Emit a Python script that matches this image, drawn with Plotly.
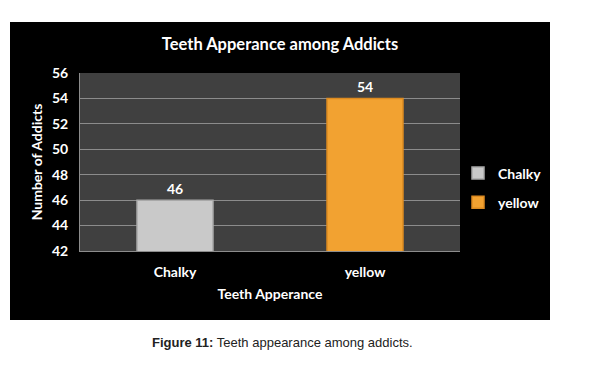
import plotly.graph_objects as go

categories = ["Chalky", "yellow"]
values = [46, 54]
colors = ["#c9c9c9", "#f2a231"]
edge_colors = ["#a8a8a8", "#dc8a20"]
y_ticks = [42, 44, 46, 48, 50, 52, 54, 56]

W, H = 592, 365
L, R, T, B = 80, 132, 73, 114  # plot area x 80-460, y 73-251
pw = W - L - R
ph = H - T - B

def px_x(x):
    return (x - L) / pw

def px_y(y):
    return (H - B - y) / ph

FONT = "Lato"

fig = go.Figure()
for c, v, col, ec in zip(categories, values, colors, edge_colors):
    fig.add_trace(go.Bar(
        x=[c], y=[v], name=c, width=0.4, legendgroup=c,
        marker=dict(color=col, line=dict(color=ec, width=1.5)),
        text=[str(v)], textposition="outside",
        textfont=dict(family=FONT, size=14, color="white", weight="bold"),
        cliponaxis=False,
    ))

fig.update_layout(
    width=W, height=H,
    margin=dict(l=L, r=R, t=T, b=B),
    paper_bgcolor="white",
    plot_bgcolor="rgba(0,0,0,0)",
    barmode="overlay",
    showlegend=True,
    title=dict(text="<b>Teeth Apperance among Addicts</b>", x=0.473, xanchor="center",
               y=1 - 44 / H, yanchor="middle",
               font=dict(family=FONT, size=16.5, color="white")),
    legend=dict(x=px_x(458), y=px_y(188), xanchor="left", yanchor="middle",
                font=dict(family=FONT, size=14, color="white", weight="bold"),
                bgcolor="rgba(0,0,0,0)", traceorder="grouped", tracegroupgap=8,
                itemwidth=30),
    shapes=[
        dict(type="rect", xref="paper", yref="paper", x0=px_x(10), x1=px_x(550),
             y0=px_y(320), y1=px_y(22), fillcolor="black", line_width=0, layer="below"),
        dict(type="rect", xref="paper", yref="paper", x0=0, x1=1, y0=0, y1=1,
             fillcolor="#404040", line_width=0, layer="below"),
    ],
    annotations=[
        dict(text="<b>Figure 11:</b> Teeth appearance among addicts.", xref="paper", yref="paper",
             x=px_x(282), y=px_y(342), xanchor="center", yanchor="middle", showarrow=False,
             font=dict(family="Liberation Sans, Arial", size=13, color="#222222")),
    ],
)

fig.update_xaxes(
    title=dict(text="<b>Teeth Apperance</b>", font=dict(family=FONT, size=14, color="white"), standoff=10),
    tickfont=dict(family=FONT, size=14, color="white", weight="bold"),
    showgrid=False, showline=True, linecolor="#8c8c8c", linewidth=1,
    ticks="", ticklabelstandoff=8,
)
fig.update_yaxes(
    range=[42, 56], tickvals=y_ticks,
    title=dict(text="<b>Number of Addicts</b>", font=dict(family=FONT, size=14, color="white"), standoff=6),
    tickfont=dict(family=FONT, size=14, color="white", weight="bold"),
    showgrid=True, gridcolor="#8c8c8c", gridwidth=1,
    showline=True, linecolor="#8c8c8c", linewidth=1, zeroline=False,
    ticks="", ticklabelstandoff=8,
)

fig.write_html("out.html", config={"displayModeBar": False},
               post_script="document.body.style.margin='0';document.body.style.padding='0';")
